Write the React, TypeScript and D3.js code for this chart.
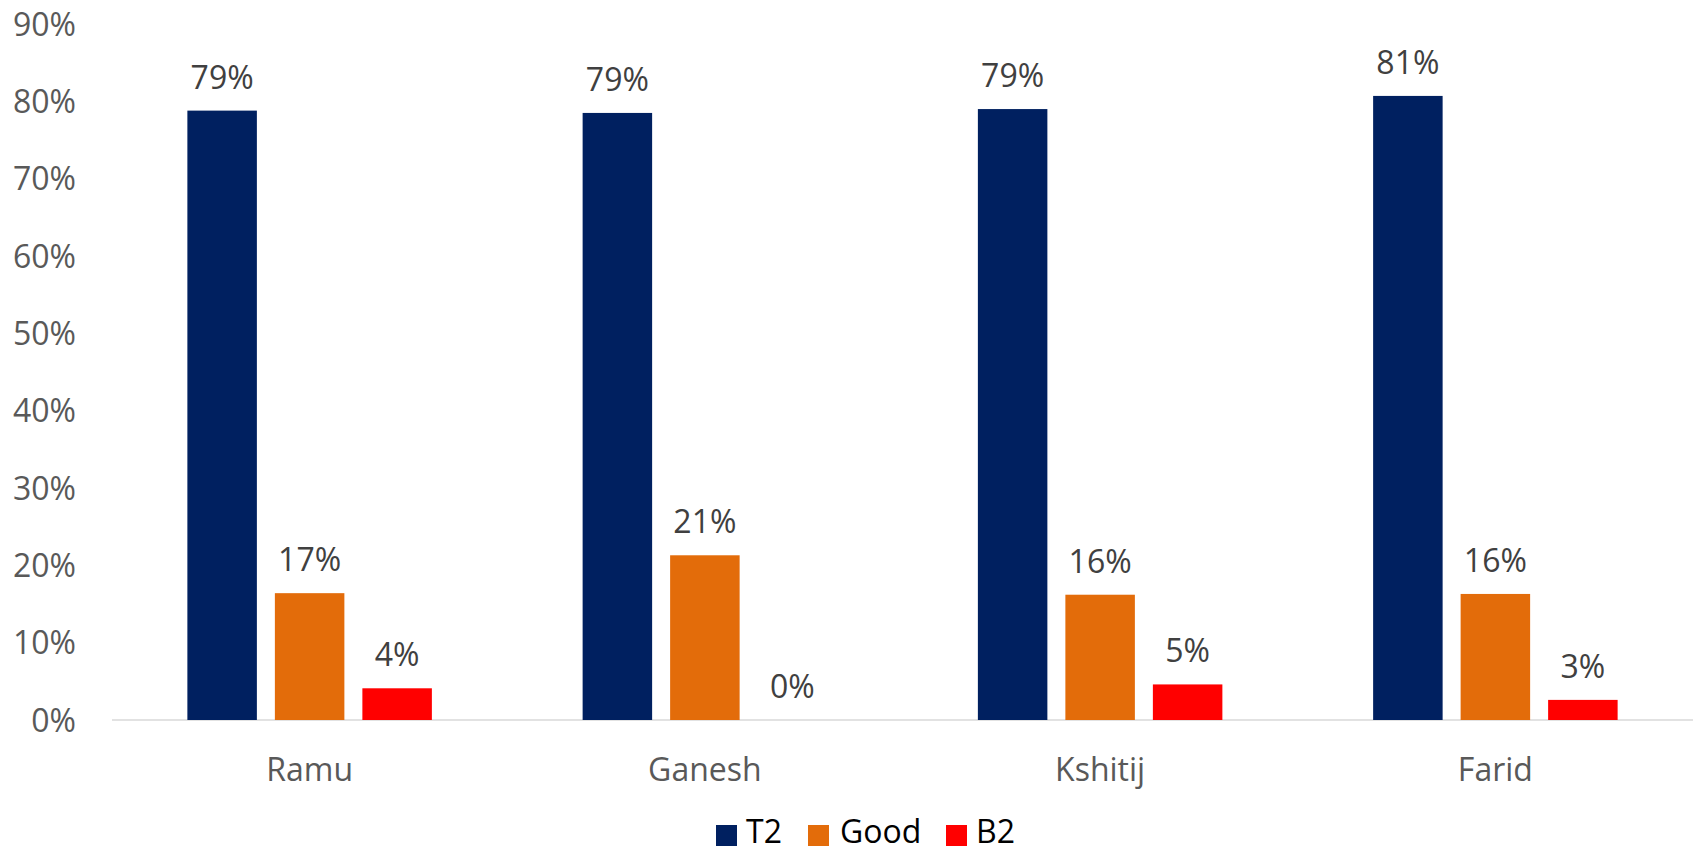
import React from "react";
import * as d3 from "d3";

const categories = ["Ramu", "Ganesh", "Kshitij", "Farid"];
const seriesNames = ["T2", "Good", "B2"];
const seriesColors = ["#002060", "#E36C0A", "#FF0000"];
const t2Values = [78.8, 78.5, 79.0, 80.7];
const goodValues = [16.4, 21.3, 16.2, 16.3];
const b2Values = [4.1, 0, 4.6, 2.6];
const labelT2 = ["79%", "79%", "79%", "81%"];
const labelGood = ["17%", "21%", "16%", "16%"];
const labelB2 = ["4%", "0%", "5%", "3%"];
const yTicks = [0, 10, 20, 30, 40, 50, 60, 70, 80, 90];

const W = 1696;
const H = 852;
const FONT = "'Open Sans', 'DejaVu Sans', sans-serif";

export default function App() {
  const left = 112;
  const right = 1693;
  const top = 24;
  const bottom = 720;

  const x = d3.scaleBand<string>().domain(categories).range([left, right]).paddingInner(0).paddingOuter(0);
  const y = d3.scaleLinear().domain([0, 90]).range([bottom, top]);

  const band = x.bandwidth();
  const barW = 69.5;
  const gap = 18;
  const groupW = barW * 3 + gap * 2;
  const inner = d3.scaleBand<number>().domain([0, 1, 2]).range([0, groupW]).paddingInner(gap / (barW + gap)).paddingOuter(0);

  const values = [t2Values, goodValues, b2Values];
  const labels = [labelT2, labelGood, labelB2];

  const legendItems = [
    { sx: 716, tx: 746 },
    { sx: 808, tx: 840 },
    { sx: 946, tx: 976 },
  ];

  return (
    <svg width={W} height={H} style={{ position: "absolute", left: 0, top: 0, background: "#fff" }} fontFamily={FONT}>
      <rect x={0} y={0} width={W} height={H} fill="#ffffff" />
      {yTicks.map((t) => (
        <text key={t} x={76} y={y(t)} dy="0.36em" textAnchor="end" fontSize={32} fill="#595959">
          {t}%
        </text>
      ))}
      <line x1={left} x2={right} y1={bottom} y2={bottom} stroke="#D9D9D9" strokeWidth={1.5} />
      {categories.map((c, ci) => {
        const gx = (x(c) as number) + (band - groupW) / 2;
        return (
          <g key={c}>
            {values.map((vals, si) => {
              const bx = gx + (inner(si) as number);
              const bw = inner.bandwidth();
              const v = vals[ci];
              return (
                <g key={si}>
                  {v > 0 && (
                    <rect x={bx} y={y(v)} width={bw} height={bottom - y(v)} fill={seriesColors[si]} />
                  )}
                  <text x={bx + bw / 2} y={y(v) - 22} textAnchor="middle" fontSize={32} fill="#404040">
                    {labels[si][ci]}
                  </text>
                </g>
              );
            })}
            <text x={(x(c) as number) + band / 2} y={781} textAnchor="middle" fontSize={32} fill="#595959">
              {c}
            </text>
          </g>
        );
      })}
      {seriesNames.map((s, i) => (
        <g key={s}>
          <rect x={legendItems[i].sx} y={825} width={21} height={21} fill={seriesColors[i]} />
          <text x={legendItems[i].tx} y={843} fontSize={32} fill="#000000">
            {s}
          </text>
        </g>
      ))}
    </svg>
  );
}
